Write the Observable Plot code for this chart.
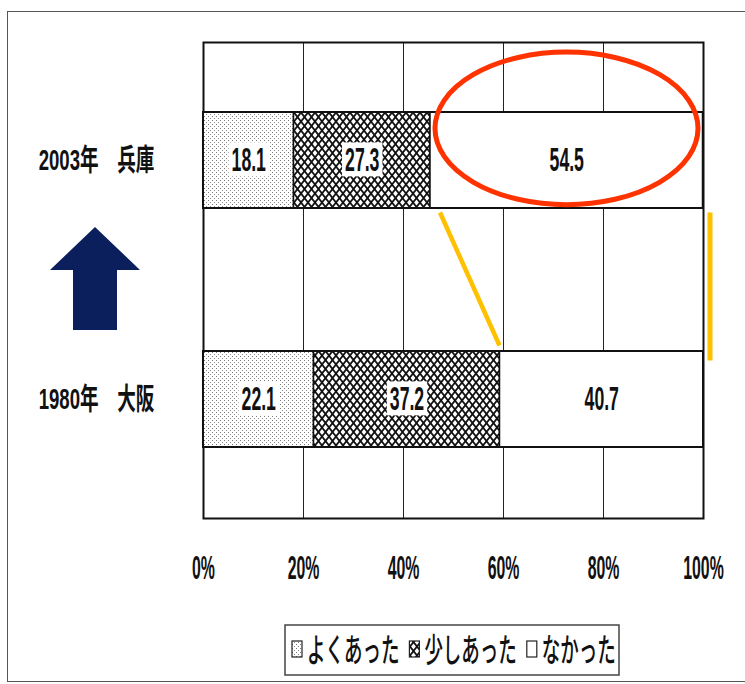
<!DOCTYPE html>
<html><head><meta charset="utf-8">
<script src="https://cdn.jsdelivr.net/npm/d3@7"></script>
<script src="https://cdn.jsdelivr.net/npm/@observablehq/plot@0.6"></script>
<style>
html,body{margin:0;padding:0;background:#fff;}
#wrap{position:relative;width:745px;height:684px;overflow:hidden;background:#fff;}
#frame{position:absolute;left:7px;top:11px;width:800px;height:671px;border:1.5px solid #555;border-right:none;box-sizing:border-box;}
#chart{position:absolute;left:0;top:0;}
#legend{position:absolute;left:284px;top:624px;}
</style></head><body>
<svg width="0" height="0" style="position:absolute">
<defs>
<pattern id="pat-dots" width="4" height="4" patternUnits="userSpaceOnUse">
<rect width="4" height="4" fill="white"/>
<rect x="0" y="0" width="1" height="1" fill="#777"/>
<rect x="2" y="2" width="1" height="1" fill="#888"/>
</pattern>
<pattern id="pat-hatch" width="7" height="9" patternUnits="userSpaceOnUse">
<rect width="7" height="9" fill="#111"/>
<polygon points="3.5,1.4 5.9,4.5 3.5,7.6 1.1,4.5" fill="white"/>
<polygon points="0,-3.1 2.4,0 0,3.1 -2.4,0" fill="white"/>
<polygon points="7,-3.1 9.4,0 7,3.1 4.6,0" fill="white"/>
<polygon points="0,5.9 2.4,9 0,12.1 -2.4,9" fill="white"/>
<polygon points="7,5.9 9.4,9 7,12.1 4.6,9" fill="white"/>
</pattern>
</defs></svg>
<div id="wrap"><div id="frame"></div><div id="chart"></div><div id="legend"></div></div>
<script>
const regions = ["2003年　兵庫", "1980年　大阪"];
const categories = ["よくあった", "少しあった", "なかった"];
const values2003 = [18.1, 27.3, 54.5];
const values1980 = [22.1, 37.2, 40.7];
const xTicks = [0, 20, 40, 60, 80, 100];
const patternFills = ["url(#pat-dots)", "url(#pat-hatch)", "white"];

const series = [values2003, values1980];
const rows = regions.flatMap((r, i) => categories.map((c, j) => ({region: r, category: c, value: series[i][j]})));

const numFont = "'Liberation Sans', Arial, sans-serif";
const jpFont = "'Liberation Sans', 'Noto Sans CJK JP', sans-serif";

const plot = Plot.plot({
  width: 745, height: 600,
  marginLeft: 203, marginRight: 42, marginTop: 42, marginBottom: 82,
  x: {domain: [xTicks[0], xTicks[xTicks.length - 1]], axis: null},
  y: {domain: regions, type: "band", paddingInner: 0.597, paddingOuter: 0.292, axis: null},
  color: {domain: categories, range: patternFills, type: "ordinal"},
  style: {background: "transparent", overflow: "visible"},
  marks: [
    Plot.ruleX(xTicks.slice(1, -1), {stroke: "#222", strokeWidth: 1}),
    Plot.frame({stroke: "#111", strokeWidth: 2}),
    Plot.barX(rows, Plot.stackX({x: "value", y: "region", fill: "category", stroke: "#111", strokeWidth: 1.5})),
    Plot.barX(regions, {x1: xTicks[0], x2: xTicks[xTicks.length - 1], y: d => d, fill: "none", stroke: "#111", strokeWidth: 2}),
    Plot.text(rows, Plot.stackX({x: "value", y: "region", text: d => d.value.toFixed(1), fontSize: 34, fontWeight: "bold", fontFamily: numFont, fill: "#111"})),
    Plot.text(xTicks, {x: d => d, text: d => d + "%", frameAnchor: "bottom", dy: 50, lineAnchor: "middle", fontSize: 33, fontWeight: "bold", fontFamily: numFont, fill: "#111"}),
    Plot.text(regions, {y: d => d, text: d => d, frameAnchor: "left", dx: -107, textAnchor: "middle", lineAnchor: "middle", fontSize: 30, fontWeight: "bold", fontFamily: jpFont, fill: "#111"})
  ]
});
document.getElementById("chart").appendChild(plot);

const ns = "http://www.w3.org/2000/svg";
function squeeze(node, s) {
  const t = node.getAttribute("transform");
  if (t) node.setAttribute("transform", t + ` scale(${s},1)`);
  else {
    const x = +node.getAttribute("x") || 0;
    node.setAttribute("transform", `translate(${x},0) scale(${s},1) translate(${-x},0)`);
  }
}
const svg = d3.select(plot);
const textGroups = svg.selectAll('g[aria-label="text"]').nodes();
const [gValues, gTicks, gRegions] = textGroups;
// white boxes behind value labels, then condense
d3.select(gValues).selectAll("text").each(function () {
  const s = 0.52;
  const b = this.getBBox();
  squeeze(this, s);
  const r = document.createElementNS(ns, "rect");
  const padX = 3 / s;
  r.setAttribute("x", b.x - padX);
  r.setAttribute("y", b.y + 2);
  r.setAttribute("width", b.width + 2 * padX);
  r.setAttribute("height", b.height - 4);
  r.setAttribute("fill", "white");
  r.setAttribute("stroke", "none");
  r.setAttribute("transform", this.getAttribute("transform"));
  this.parentNode.insertBefore(r, this);
});
d3.select(gTicks).selectAll("text").each(function () { squeeze(this, 0.48); });
d3.select(gRegions).selectAll("text").each(function () { squeeze(this, 0.62); });

// annotations
const xs = plot.scale("x"), ys = plot.scale("y");
const X = v => xs.apply(v);
const yb = d3.scaleBand(ys.domain, ys.range).paddingInner(ys.paddingInner ?? 0.597).paddingOuter(ys.paddingOuter ?? 0.292).align(ys.align ?? 0.5);
const bw = yb.bandwidth();
const top1 = yb(regions[0]), bot1 = top1 + bw, top2 = yb(regions[1]);
const cum2003 = values2003[0] + values2003[1];
const cum1980 = values1980[0] + values1980[1];
const ann = svg.append("g").attr("aria-label", "annotations");
const ex1 = X(cum2003), ex2 = X(xTicks[xTicks.length - 1]);
ann.append("ellipse")
  .attr("cx", (ex1 + ex2) / 2).attr("cy", top1 + bw * 0.17)
  .attr("rx", (ex2 - ex1) / 2 - 5).attr("ry", bw * 0.79)
  .attr("fill", "none").attr("stroke", "#ff3300").attr("stroke-width", 5);
ann.append("line")
  .attr("x1", X(cum2003) + 10).attr("y1", bot1 + 4)
  .attr("x2", X(cum1980)).attr("y2", top2 - 6)
  .attr("stroke", "#ffc000").attr("stroke-width", 4.5);
ann.append("line")
  .attr("x1", ex2 + 7).attr("y1", bot1 + 4)
  .attr("x2", ex2 + 7).attr("y2", top2 + 9)
  .attr("stroke", "#ffc000").attr("stroke-width", 5);
// navy arrow in the gap, centred under the region labels
const ac = X(xTicks[0]) - 108;
const aTop = bot1 + 18.5, aMid = aTop + 43, aBot = top2 - 21.5;
ann.append("path")
  .attr("d", `M${ac},${aTop} L${ac + 45},${aMid} L${ac + 22},${aMid} L${ac + 22},${aBot} L${ac - 22},${aBot} L${ac - 22},${aMid} L${ac - 45},${aMid} Z`)
  .attr("fill", "#0b1f5c");

// legend
const color = plot.scale("color");
const lg = d3.select("#legend").append("svg").attr("width", 338).attr("height", 54);
lg.append("rect").attr("x", 1).attr("y", 1).attr("width", 334).attr("height", 50)
  .attr("fill", "white").attr("stroke", "#444").attr("stroke-width", 1.5);
let cx = 8;
const ls = 0.56;
categories.forEach((c) => {
  lg.append("rect").attr("x", cx).attr("y", 17).attr("width", 10).attr("height", 16)
    .attr("fill", color.apply(c)).attr("stroke", "#222").attr("stroke-width", 1.2);
  cx += 15;
  const t = lg.append("text").attr("x", cx).attr("y", 26).attr("dy", "0.36em")
    .attr("font-size", 33).attr("font-weight", 500).attr("font-family", "'Noto Sans CJK JP', sans-serif").attr("fill", "#111").text(c);
  const w = t.node().getComputedTextLength() * ls;
  squeeze(t.node(), ls);
  cx += w + 10;
});
</script>
</body></html>
